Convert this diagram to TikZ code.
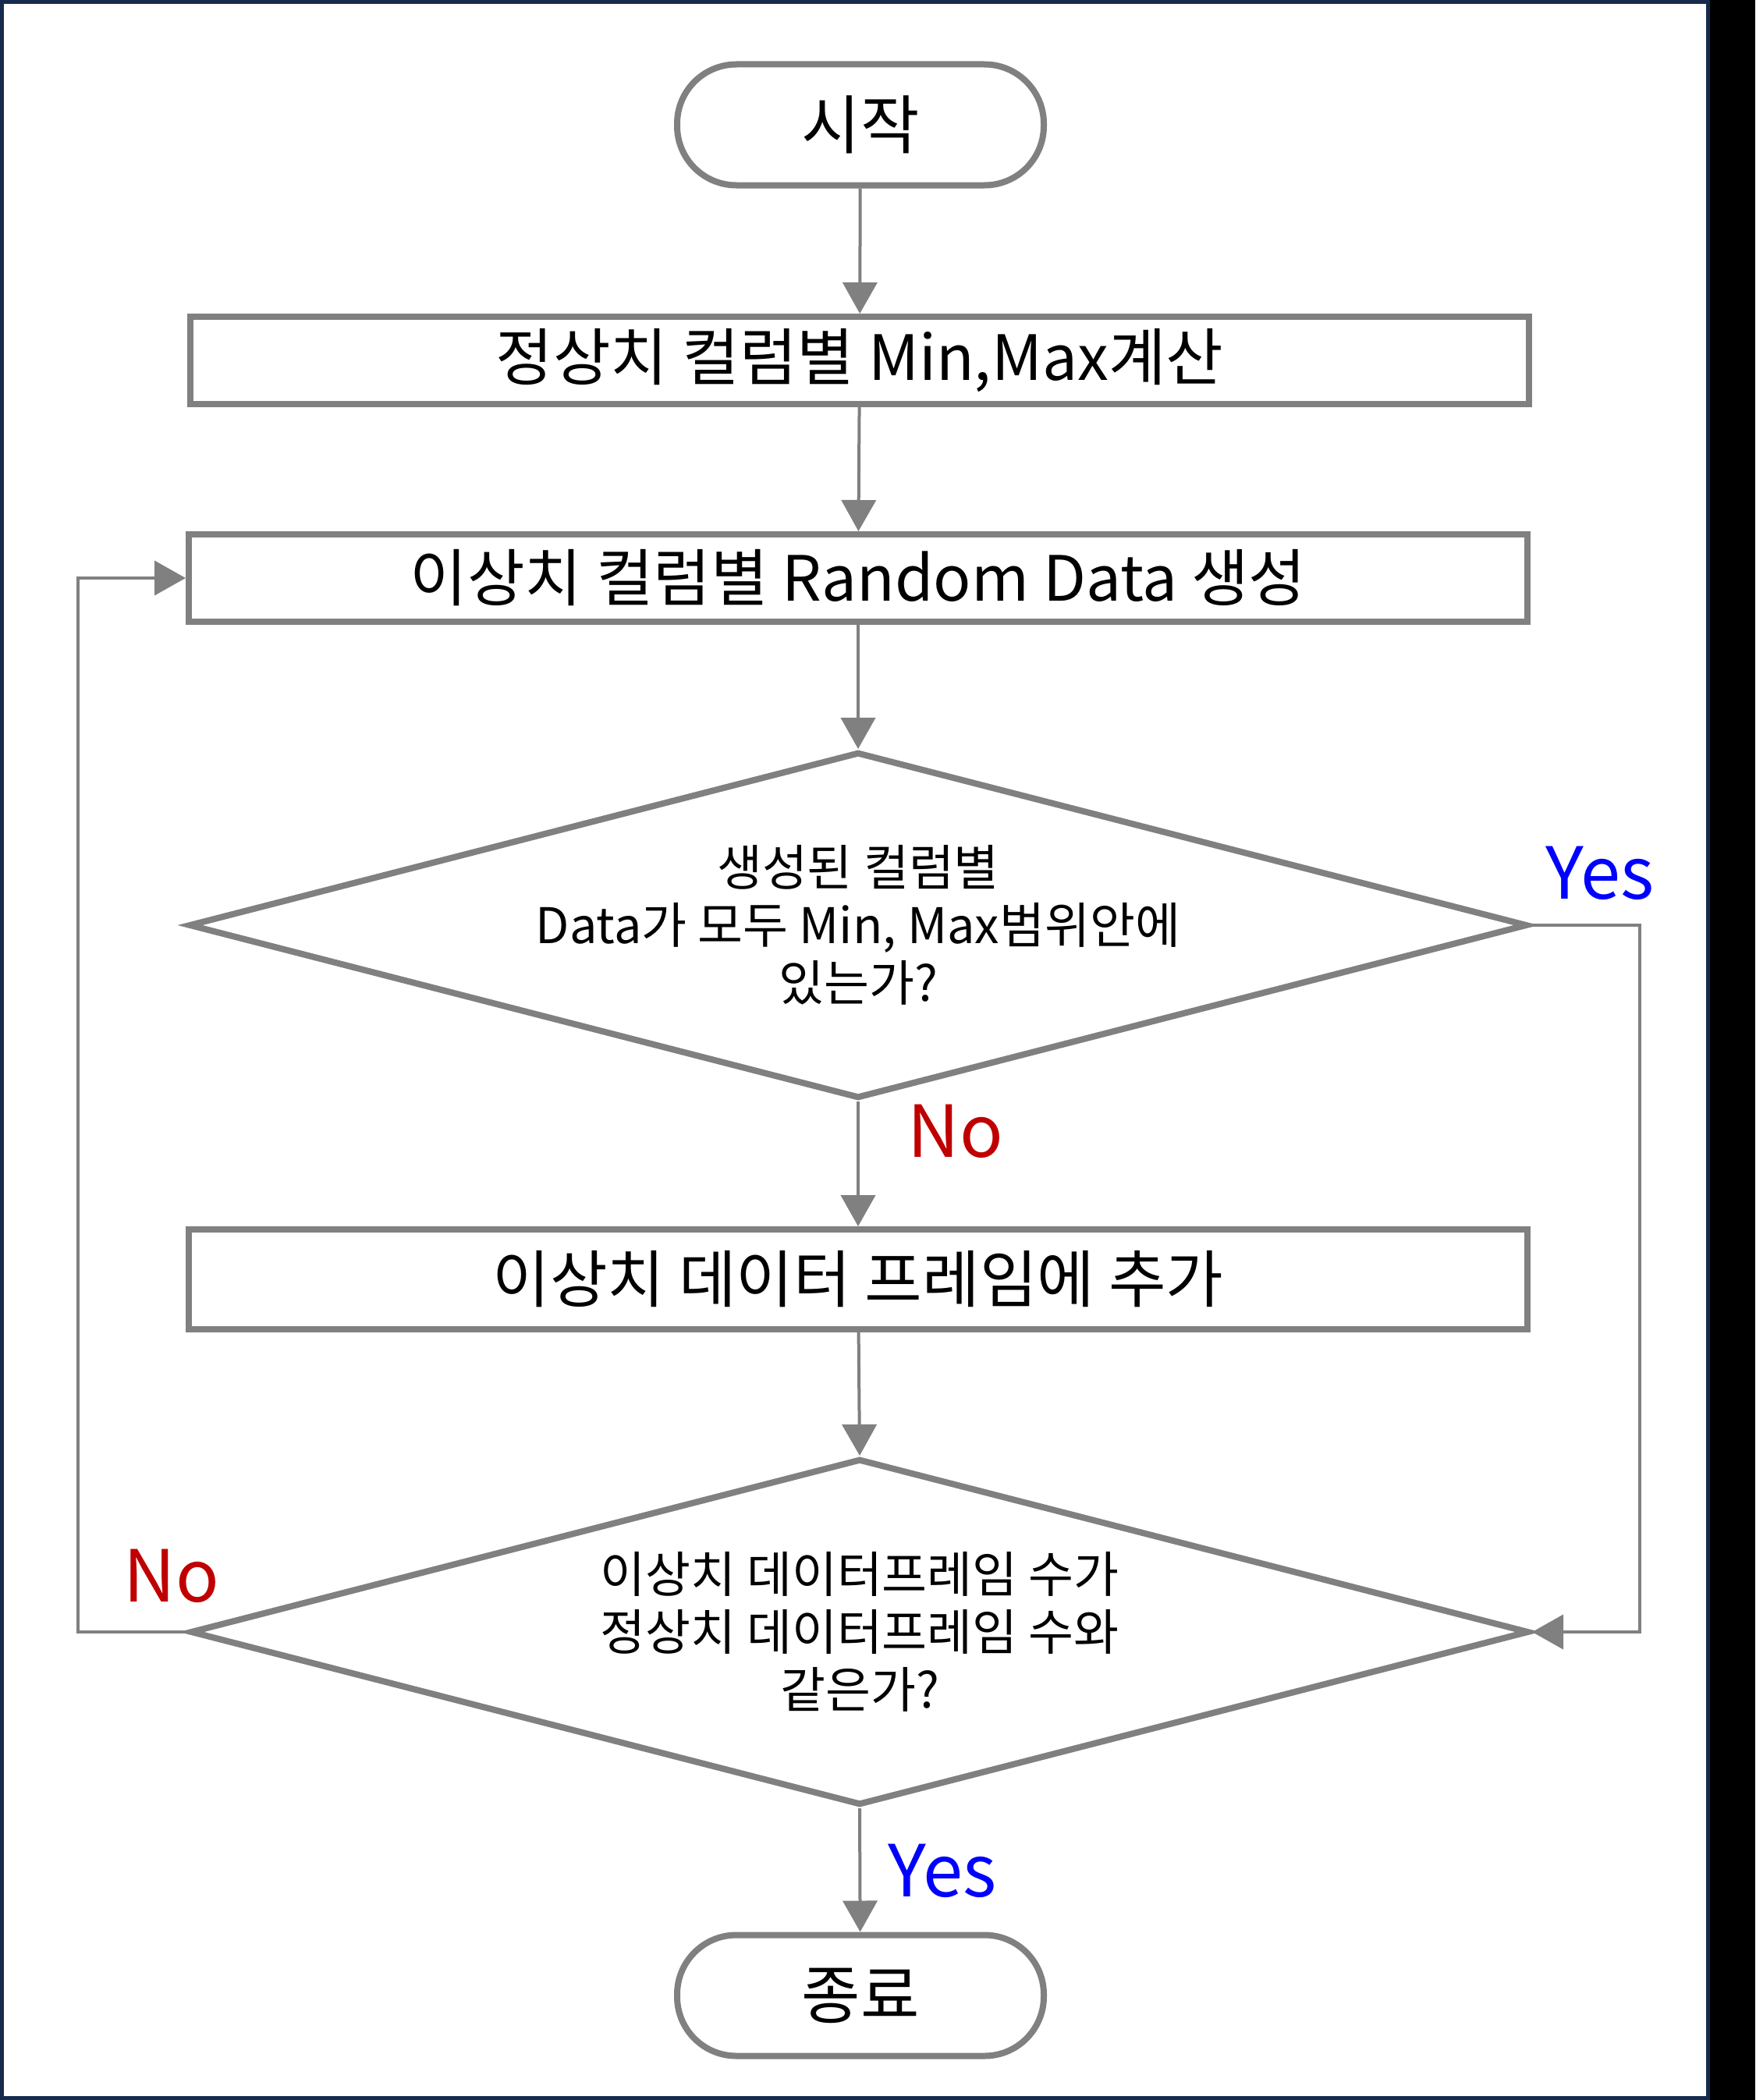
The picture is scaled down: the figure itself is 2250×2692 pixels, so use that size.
\documentclass[tikz,border=0pt]{standalone}
\usepackage{fontspec}
\setmainfont{Noto Sans CJK KR}
\usetikzlibrary{arrows.meta,shapes.geometric}
\definecolor{frameblue}{RGB}{23,43,77}
\definecolor{linegray}{RGB}{128,128,128}
\definecolor{nored}{RGB}{192,0,0}
\begin{document}
\begin{tikzpicture}[x=0.5pt,y=-0.5pt,
    terminal/.style={draw=linegray,line width=4pt,rounded corners=38pt,minimum width=235pt,minimum height=77.5pt,font=\fontsize{41}{48}\selectfont},
    process/.style={draw=linegray,line width=4pt,minimum width=858pt,minimum height=56pt,inner sep=0pt,font=\fontsize{40}{48}\selectfont},
    decision/.style={draw=linegray,line width=4pt,diamond,minimum width=858pt,minimum height=222pt,inner sep=0pt},
    qtext/.style={align=center,font=\fontsize{31.5}{37}\selectfont},
    flow/.style={draw=linegray,line width=2pt,-{Triangle[length=20pt,width=22pt]}},
    yeslabel/.style={text=blue,font=\fontsize{46}{50}\selectfont},
    nolabel/.style={text=nored,font=\fontsize{46}{50}\selectfont}]
    \useasboundingbox (0,0) rectangle (2250,2692);
    \fill[black] (0,0) rectangle (2250,2692);
    \fill[frameblue] (0,0) rectangle (2192,2692);
    \fill[white] (5,5) rectangle (2187,2687);

    \node[terminal] (start) at (1103,160) {시작};
    \node[process] (minmax) at (1102,462) {정상치 컬럼별 Min,Max계산};
    \node[process] (random) at (1100,741) {이상치 컬럼별 Random Data 생성};
    \node[decision] (inrange) at (1100,1186) {};
    \node[qtext] (inrangetxt) at (inrange) {생성된 컬럼별\\Data가 모두 Min, Max범위안에\\있는가?};
    \node[process,minimum height=64pt] (append) at (1100,1640) {이상치 데이터 프레임에 추가};
    \node[decision] (samecount) at (1102,2092) {};
    \node[qtext] (samecounttxt) at (samecount) {이상치 데이터프레임 수가\\정상치 데이터프레임 수와\\같은가?};
    \node[terminal] (stop) at (1103,2558) {종료};

    \coordinate (rightloop) at (2102,1640);
    \coordinate (leftloop) at (100,1400);

    \draw[flow] (start) -- (minmax);
    \draw[flow] (minmax) -- (random);
    \draw[flow] (random) -- (inrange.north);
    \draw[flow] (inrange.south) -- (append);
    \draw[flow] (append) -- (samecount.north);
    \draw[flow] (samecount.south) -- (stop);
    \draw[flow] (inrange.east) -| (rightloop) |- (samecount.east);
    \draw[flow] (samecount.west) -| (leftloop) |- (random.west);

    \node[yeslabel] (yesright) at (2051,1119) {Yes};
    \node[nolabel] (nomid) at (1225,1450) {No};
    \node[nolabel] (noleft) at (220,2020) {No};
    \node[yeslabel] (yesbottom) at (1208,2398) {Yes};
\end{tikzpicture}
\end{document}
